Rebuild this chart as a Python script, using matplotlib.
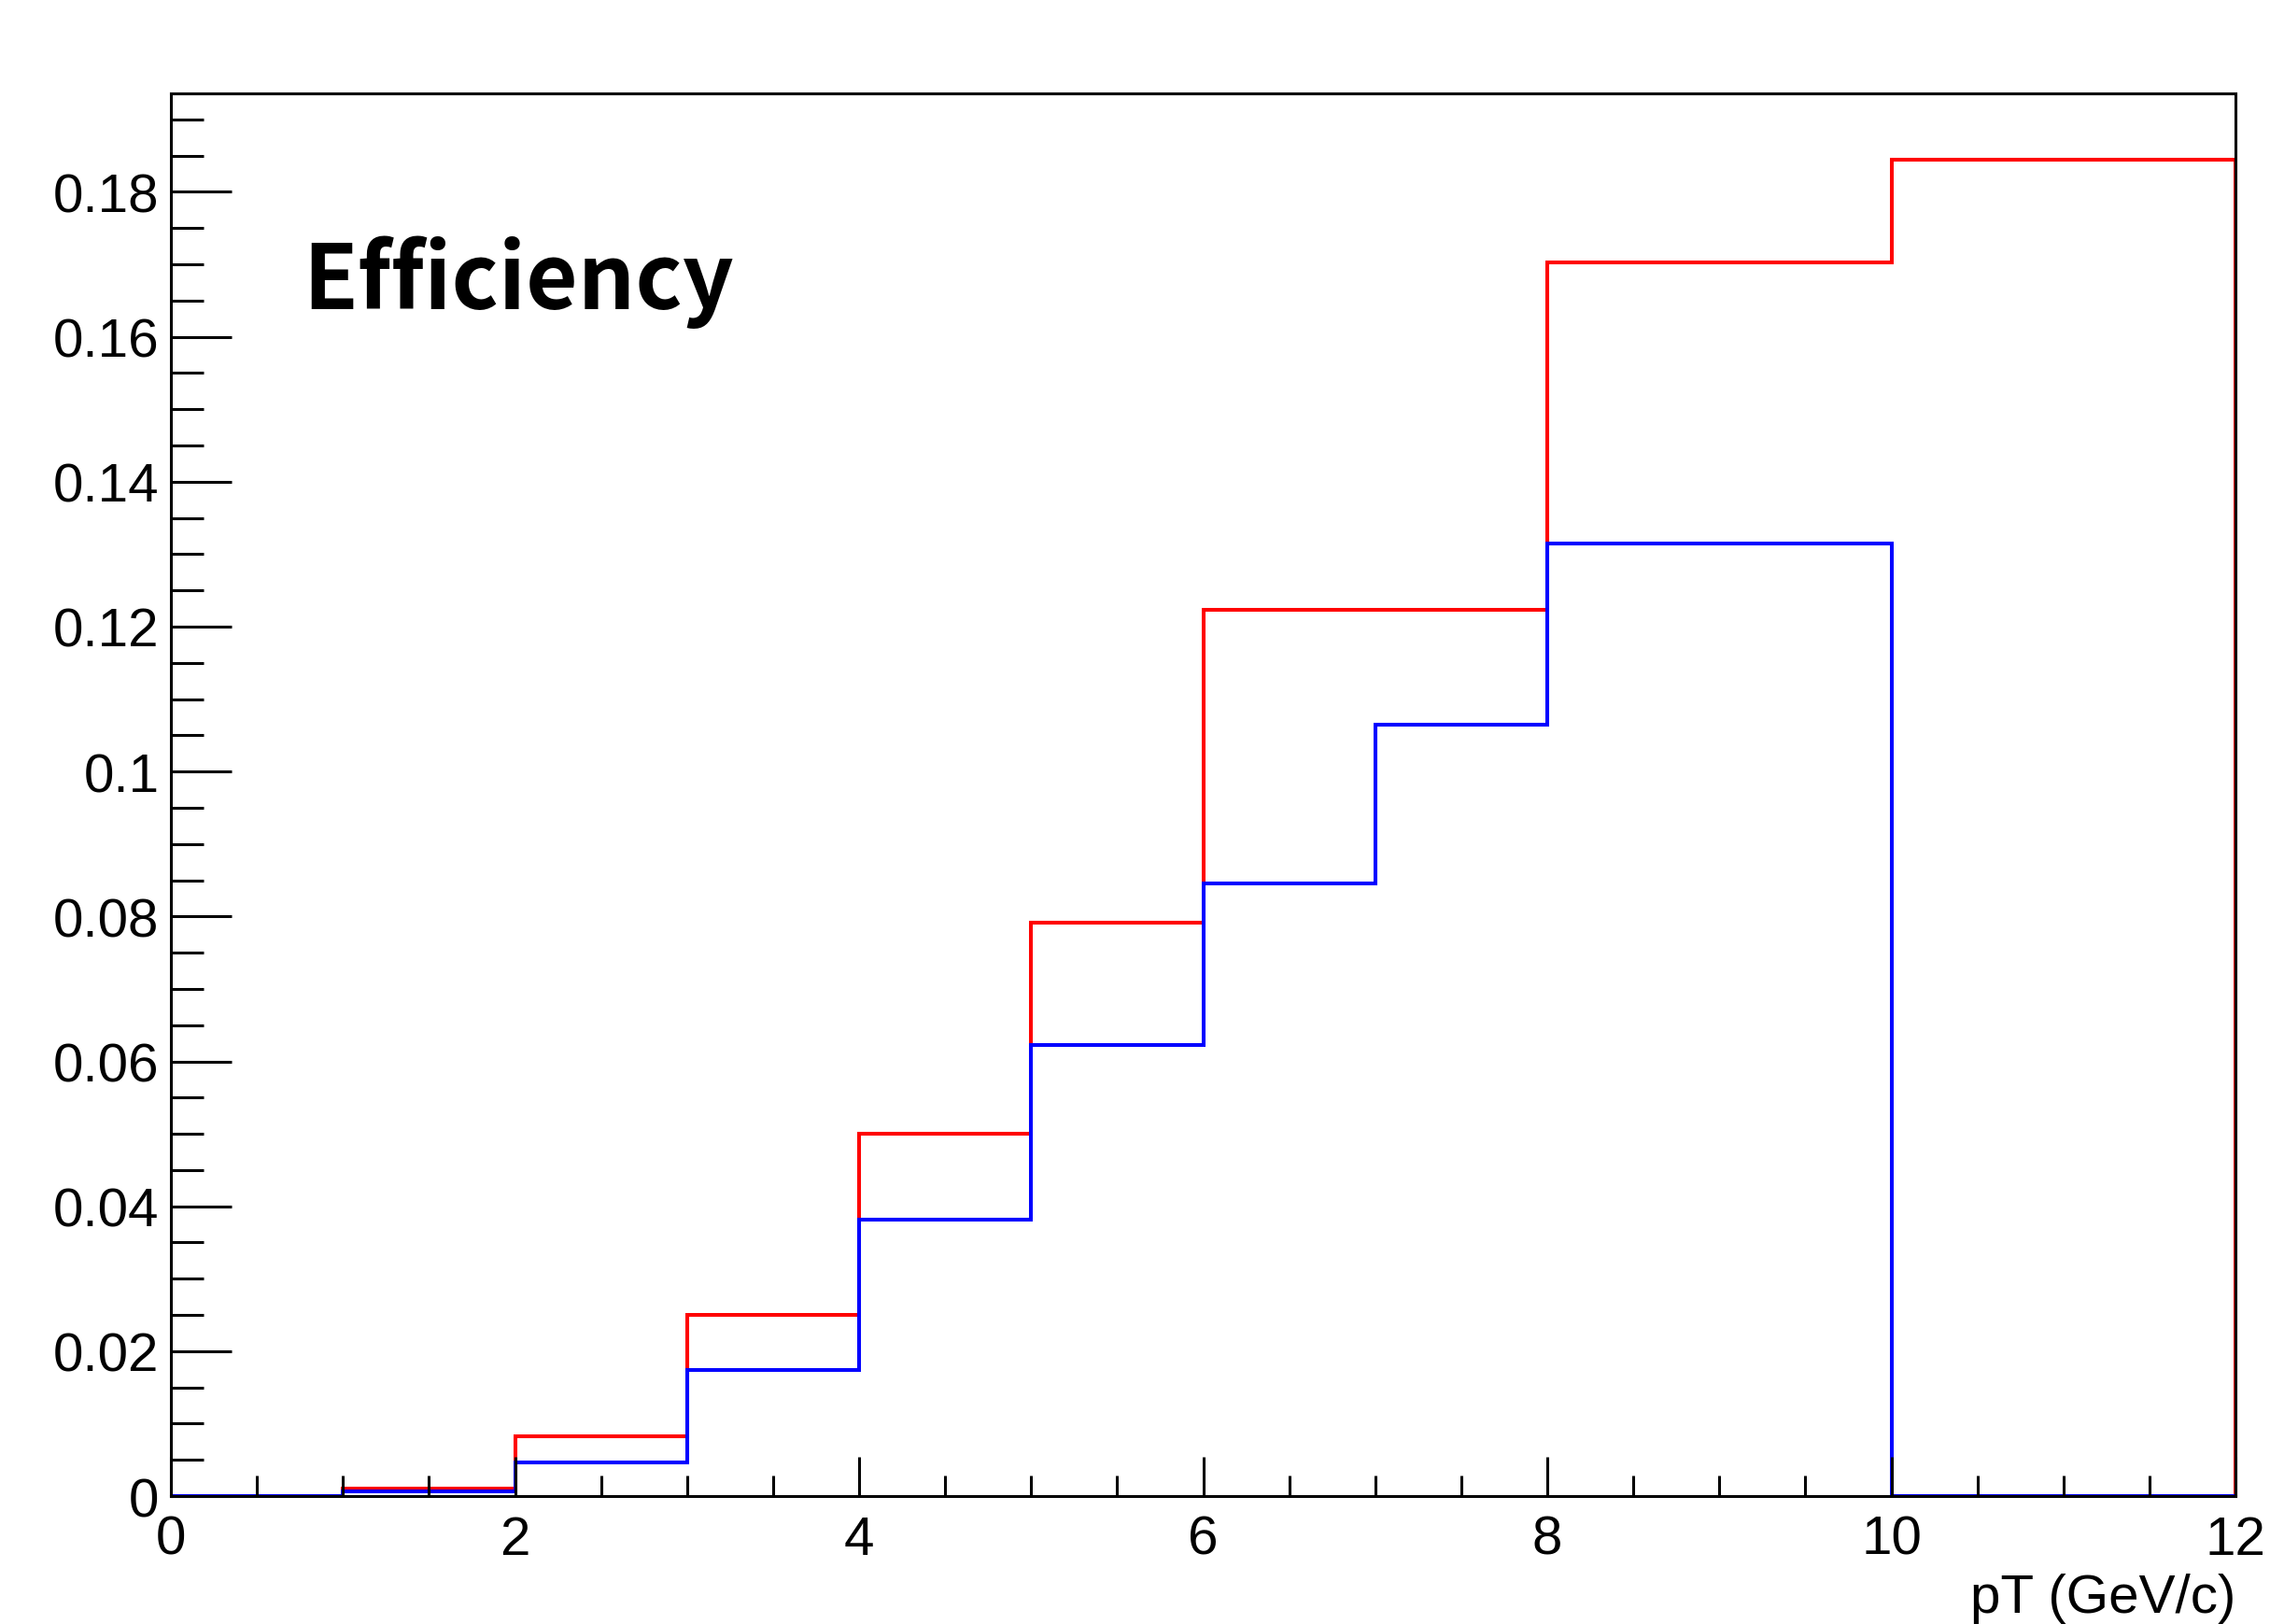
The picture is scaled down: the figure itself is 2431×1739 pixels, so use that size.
import numpy as np
import matplotlib
matplotlib.use('Agg')
import matplotlib.pyplot as plt
from matplotlib.ticker import MultipleLocator, FormatStrFormatter

# pT binning (GeV/c) and per-bin efficiencies
BIN_EDGES = [0, 1, 2, 3, 4, 5, 6, 7, 8, 10, 12]
EFF_RED = [0.0, 0.001, 0.0082, 0.0250, 0.0500, 0.0791, 0.1223, 0.1223, 0.1702, 0.1844]
EFF_BLUE = [0.0, 0.0006, 0.0046, 0.0174, 0.0382, 0.0623, 0.0845, 0.1065, 0.1315, 0.0]

Y_MAX = 0.1936


def main():
    fig = plt.figure(figsize=(24.31, 17.4), dpi=100)
    ax = fig.add_axes([0.0753, 0.0787, 0.9095, 0.8633])

    ax.stairs(EFF_RED, BIN_EDGES, color='#ff0000', linewidth=2.9, baseline=0)
    ax.stairs(EFF_BLUE, BIN_EDGES, color='#0000ff', linewidth=2.9, baseline=0)

    ax.set_xlim(0, 12)
    ax.set_ylim(0, Y_MAX)

    # ROOT-like axis frame: inward ticks on left/bottom only
    for s in ax.spines.values():
        s.set_linewidth(2.2)
        s.set_color('black')

    ax.xaxis.set_major_locator(MultipleLocator(2))
    ax.xaxis.set_minor_locator(MultipleLocator(0.5))
    ax.yaxis.set_major_locator(MultipleLocator(0.02))
    ax.yaxis.set_minor_locator(MultipleLocator(0.005))
    ax.yaxis.set_major_formatter(FormatStrFormatter('%g'))
    ax.xaxis.set_major_formatter(FormatStrFormatter('%g'))

    lab_font = 'Liberation Sans'
    ax.tick_params(axis='x', which='major', direction='in', length=30, width=2.2,
                   pad=14, labelsize=42, top=False)
    ax.tick_params(axis='x', which='minor', direction='in', length=15.5, width=2.2, top=False)
    ax.tick_params(axis='y', which='major', direction='in', length=47, width=2.2,
                   pad=9, labelsize=42, right=False)
    ax.tick_params(axis='y', which='minor', direction='in', length=25, width=2.2, right=False)
    for lab in ax.get_xticklabels() + ax.get_yticklabels():
        lab.set_fontfamily(lab_font)

    ax.text(1.0, -0.0826, 'pT (GeV/c)', transform=ax.transAxes, ha='right', va='baseline',
            fontsize=42, family=lab_font)

    ax.text(0.064, 0.847, 'Efficiency', transform=ax.transAxes, ha='left', va='baseline',
            fontsize=69, fontweight='bold', family=['Noto Sans CJK SC', 'DejaVu Sans'])

    fig.savefig('out.png', dpi=100, facecolor='white')


if __name__ == '__main__':
    main()
